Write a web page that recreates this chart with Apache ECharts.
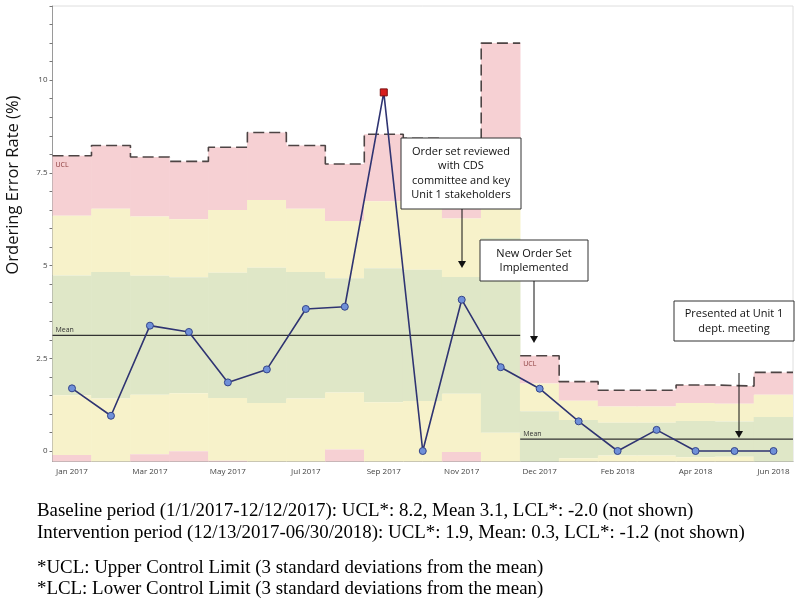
<!DOCTYPE html>
<html>
<head>
<meta charset="utf-8">
<script src="https://cdn.jsdelivr.net/npm/echarts@6/dist/echarts.min.js"></script>
<style>
html,body{margin:0;padding:0;background:#fff;}
#chart{width:800px;height:612px;}
</style>
</head>
<body>
<div id="chart"></div>
<script>
// ---- data ----
const categories = ['Jan 2017','Feb 2017','Mar 2017','Apr 2017','May 2017','Jun 2017','Jul 2017','Aug 2017','Sep 2017','Oct 2017','Nov 2017','Dec 1-12 2017','Dec 2017','Jan 2018','Feb 2018','Mar 2018','Apr 2018','May 2018','Jun 2018'];
const errorRate = [1.69, 0.95, 3.38, 3.21, 1.85, 2.20, 3.83, 3.89, 9.67, 0, 4.08, 2.26, 1.68, 0.80, 0, 0.57, 0, 0, 0];
const uclValues = [7.96, 8.24, 7.93, 7.81, 8.19, 8.59, 8.24, 7.74, 8.54, 8.43, 7.84, 11.0, 2.57, 1.87, 1.64, 1.64, 1.78, 1.75, 2.12];
const phaseOf = [0,0,0,0,0,0,0,0,0,0,0,0,1,1,1,1,1,1,1];
const phaseMeans = [3.12, 0.32];
const yTickLabels = [0, 2.5, 5, 7.5, 10];
const yTicks = [0,0.5,1,1.5,2,2.5,3,3.5,4,4.5,5,5.5,6,6.5,7,7.5,8,8.5,9,9.5,10,10.5,11,11.5,12];
const notes = [
  'Baseline period (1/1/2017-12/12/2017): UCL*: 8.2, Mean 3.1, LCL*: -2.0 (not shown)',
  'Intervention period (12/13/2017-06/30/2018): UCL*: 1.9, Mean: 0.3, LCL*: -1.2 (not shown)',
  '*UCL: Upper Control Limit (3 standard deviations from the mean)',
  '*LCL: Lower Control Limit (3 standard deviations from the mean)'
];

const C_RED = '#f6d0d3', C_YEL = '#f7f2ca', C_GRN = '#dfe7c7';

// zone data: [index, ucl, mean]
const zoneData = categories.map((c, i) => [i, uclValues[i], phaseMeans[phaseOf[i]]]);

// step-line data on hidden value axis
function stepLine(phase, getter) {
  const out = [];
  categories.forEach((c, i) => {
    if (phaseOf[i] !== phase) return;
    const v = getter(i);
    out.push([i - 0.5, v], [i + 0.5, v]);
  });
  return out;
}
const uclBase = stepLine(0, i => uclValues[i]);
const uclInt = stepLine(1, i => uclValues[i]);
const meanBase = stepLine(0, () => phaseMeans[0]);
const meanInt = stepLine(1, () => phaseMeans[1]);

const pointData = errorRate.map((v, i) => {
  if (v > uclValues[i]) {
    return { value: v, symbol: 'rect', symbolSize: 7,
      itemStyle: { color: '#d81e1e', borderColor: '#7a1010', borderWidth: 1 } };
  }
  return v;
});

const chart = echarts.init(document.getElementById('chart'), null, { renderer: 'canvas' });

const FONT = 'Open Sans';

chart.setOption({
  animation: false,
  backgroundColor: '#fff',
  grid: { left: 52.5, right: 7, top: 6, bottom: 150.5, show: true, borderColor: '#dedede', borderWidth: 1, backgroundColor: 'transparent' },
  xAxis: [{
    type: 'category', data: categories, boundaryGap: true,
    axisLine: { onZero: false, lineStyle: { color: '#9a9a9a', width: 1 } },
    axisTick: { interval: 1, alignWithLabel: true, length: 4, lineStyle: { color: '#777' } },
    axisLabel: { interval: 1, fontSize: 8, color: '#444', fontFamily: FONT, margin: 6 },
    splitLine: { show: false }
  }, {
    type: 'value', min: -0.5, max: 18.5, show: false,
    axisLine: { onZero: false }
  }],
  yAxis: {
    type: 'value', min: -0.283, max: 12,
    axisLine: { show: true, onZero: false, lineStyle: { color: '#9a9a9a', width: 1 } },
    axisTick: { show: true, length: 3, lineStyle: { color: '#777' }, customValues: yTicks },
    axisLabel: { fontSize: 8, color: '#444', fontFamily: FONT, margin: 5, customValues: yTickLabels,
      formatter: v => String(v) },
    splitLine: { show: false }
  },
  series: [
    {
      type: 'custom', name: 'zones', xAxisIndex: 0, yAxisIndex: 0, z: 1,
      data: zoneData, encode: { x: 0, y: 1 },
      renderItem: function (params, api) {
        const i = api.value(0), u = api.value(1), m = api.value(2);
        const s = (u - m) / 3;
        const w = api.size([1, 0])[0];
        const cs = params.coordSys;
        const bounds = [
          [m + 2 * s, m + 3 * s, C_RED],
          [m + s, m + 2 * s, C_YEL],
          [m - s, m + s, C_GRN],
          [m - 2 * s, m - s, C_YEL],
          [m - 3 * s, m - 2 * s, C_RED]
        ];
        const children = [];
        bounds.forEach(b => {
          const pTop = api.coord([i, b[1]]);
          const pBot = api.coord([i, b[0]]);
          const r = echarts.graphic.clipRectByRect(
            { x: pTop[0] - w / 2 - 0.3, y: pTop[1], width: w + 0.6, height: pBot[1] - pTop[1] },
            { x: cs.x, y: cs.y, width: cs.width, height: cs.height });
          if (r) children.push({ type: 'rect', shape: r, style: { fill: b[2] } });
        });
        return { type: 'group', children: children };
      }
    },
    { type: 'line', name: 'UCL baseline', xAxisIndex: 1, data: uclBase, showSymbol: false, symbol: 'none', z: 3,
      lineStyle: { color: '#4d4444', width: 1.6, type: [11, 5] } },
    { type: 'line', name: 'UCL intervention', xAxisIndex: 1, data: uclInt, showSymbol: false, symbol: 'none', z: 3,
      lineStyle: { color: '#4d4444', width: 1.6, type: [11, 5] } },
    { type: 'line', name: 'Mean baseline', xAxisIndex: 1, data: meanBase, showSymbol: false, symbol: 'none', z: 3,
      lineStyle: { color: '#333', width: 1.2 } },
    { type: 'line', name: 'Mean intervention', xAxisIndex: 1, data: meanInt, showSymbol: false, symbol: 'none', z: 3,
      lineStyle: { color: '#333', width: 1.2 } },
    { type: 'line', name: 'Ordering Error Rate', xAxisIndex: 0, data: pointData, z: 5,
      symbol: 'circle', symbolSize: 7, showAllSymbol: true,
      lineStyle: { color: '#2f3472', width: 1.6 },
      itemStyle: { color: '#6f90d8', borderColor: '#34448a', borderWidth: 1 } }
  ]
});

// ---- annotations ----
const px = (x, y) => chart.convertToPixel({ xAxisIndex: 1, yAxisIndex: 0 }, [x, y]);
const uclLbl1 = px(-0.5, uclValues[0]);
const meanLbl1 = px(-0.5, phaseMeans[0]);
const uclLbl2 = px(11.5, uclValues[12]);
const meanLbl2 = px(11.5, phaseMeans[1]);

function box(x, y, w, h, lines, cx, lh, ty) {
  const els = [{ type: 'rect', shape: { x: x, y: y, width: w, height: h }, style: { fill: '#fff', stroke: '#333', lineWidth: 1 }, z: 100 }];
  lines.forEach((t, k) => els.push({ type: 'text', x: cx, y: ty + k * lh, z: 101,
    style: { text: t, fill: '#111', font: '11px "Open Sans"', textAlign: 'center', textVerticalAlign: 'middle' } }));
  return els;
}
function arrow(x, y1, y2) {
  return [
    { type: 'line', shape: { x1: x, y1: y1, x2: x, y2: y2 - 6 }, style: { stroke: '#111', lineWidth: 1 }, z: 100 },
    { type: 'polygon', shape: { points: [[x - 4, y2 - 7], [x + 4, y2 - 7], [x, y2]] }, style: { fill: '#111' }, z: 100 }
  ];
}

const g = [];
g.push({ type: 'text', x: uclLbl1[0] + 3, y: uclLbl1[1] + 6, z: 50, style: { text: 'UCL', fill: '#8a3a3a', font: '7px "Open Sans"' } });
g.push({ type: 'text', x: meanLbl1[0] + 3, y: meanLbl1[1] - 9, z: 50, style: { text: 'Mean', fill: '#333', font: '7px "Open Sans"' } });
g.push({ type: 'text', x: uclLbl2[0] + 3, y: uclLbl2[1] + 5, z: 50, style: { text: 'UCL', fill: '#8a3a3a', font: '7px "Open Sans"' } });
g.push({ type: 'text', x: meanLbl2[0] + 3, y: meanLbl2[1] - 9, z: 50, style: { text: 'Mean', fill: '#333', font: '7px "Open Sans"' } });

g.push(...box(401, 138, 120, 71, ['Order set reviewed', 'with CDS', 'committee and key', 'Unit 1 stakeholders'], 461, 14.3, 152));
g.push(...arrow(462, 209, 268));
g.push(...box(480, 240, 108, 41, ['New Order Set', 'Implemented'], 534, 14, 254));
g.push(...arrow(534, 281, 343));
g.push(...box(674, 301, 120, 40, ['Presented at Unit 1', 'dept. meeting'], 734, 14.5, 314));
g.push(...arrow(739, 373, 438));

g.push({ type: 'text', x: 13, y: 185, rotation: Math.PI / 2, z: 50,
  style: { text: 'Ordering Error Rate (%)', fill: '#111', font: '16.5px "Open Sans"', textAlign: 'center', textVerticalAlign: 'middle' } });

const noteY = [511, 533, 568, 589];
notes.forEach((t, k) => g.push({ type: 'text', x: 37, y: noteY[k], z: 50,
  style: { text: t, fill: '#000', font: '18.9px "Liberation Serif"', textVerticalAlign: 'middle' } }));

chart.setOption({ graphic: { elements: g } });
</script>
</body>
</html>
